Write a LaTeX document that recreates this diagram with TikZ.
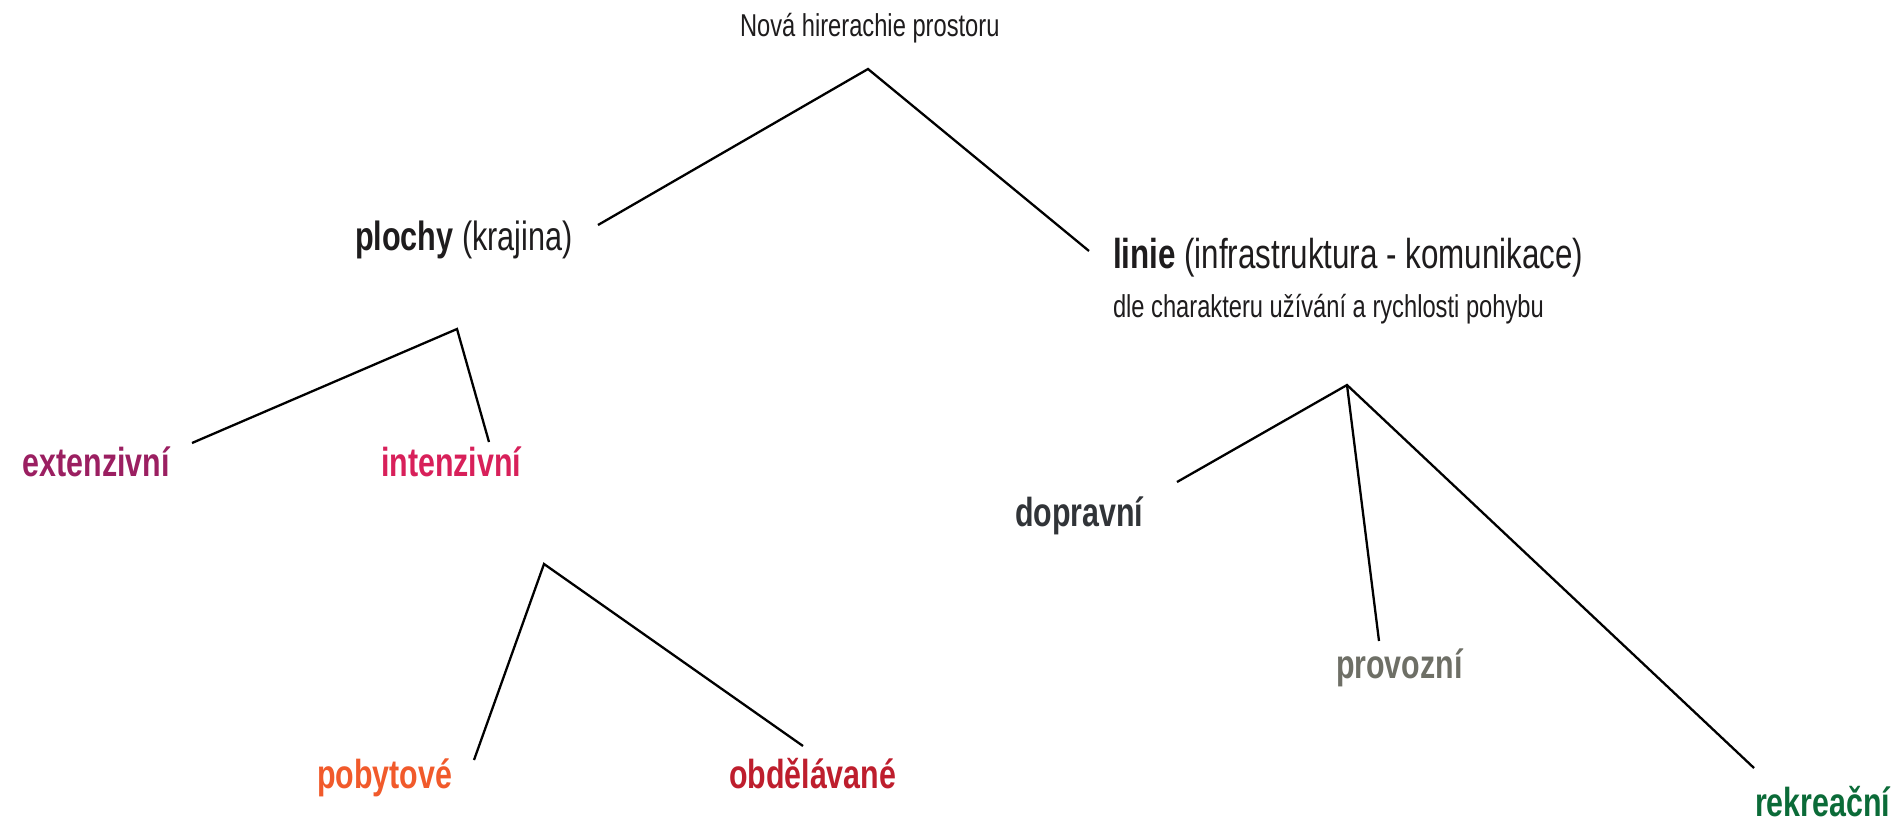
\documentclass[tikz,border=0pt]{standalone}
\usepackage{fontspec}
\setmainfont{Liberation Sans}[FakeStretch=0.75]
\definecolor{txt}{HTML}{1E1C1D}
\definecolor{cext}{HTML}{9B1F61}
\definecolor{cint}{HTML}{D8205A}
\definecolor{cpob}{HTML}{F15A2B}
\definecolor{cobd}{HTML}{BE1E2D}
\definecolor{cdop}{HTML}{313438}
\definecolor{cpro}{HTML}{6E6F66}
\definecolor{crek}{HTML}{0B6B38}
\begin{document}
\begin{tikzpicture}[x=1pt,y=-1pt,
  lbl/.style={anchor=base west,inner sep=0pt,outer sep=0pt,text=txt},
  small/.style={lbl,font=\fontsize{31.6}{36}\selectfont},
  big/.style={lbl,font=\fontsize{40.8}{46}\selectfont},
  cat/.style={lbl,font=\fontsize{40.5}{46}\selectfont\bfseries},
  branch/.style={draw=black,line width=2.3pt}]
\useasboundingbox[fill=white] (0,0) rectangle (1903,828);
% texts
\node[small] (title) at (740,36) {Nová hirerachie prostoru};
\node[big] (plochy) at (355,250) {\textbf{plochy} (krajina)};
\node[big,font=\fontsize{41.8}{46}\selectfont] (linie) at (1113,268) {\textbf{linie} (infrastruktura - komunikace)};
\node[small] (dle) at (1113,317) {dle charakteru užívání a rychlosti pohybu};
\node[cat,text=cext] (ext) at (23,476) {extenzivní};
\node[cat,text=cint] (int) at (381,476) {intenzivní};
\node[cat,text=cpob] (pob) at (317,788) {pobytové};
\node[cat,text=cobd] (obd) at (729,788) {obdělávané};
\node[cat,text=cdop] (dop) at (1015,526) {dopravní};
\node[cat,text=cpro] (pro) at (1336,678) {provozní};
\node[cat,text=crek] (rek) at (1755,816) {rekreační};
% branch points
\coordinate (a0) at (868,69);
\coordinate (a0l) at (598,225);
\coordinate (a0r) at (1089,251);
\coordinate (a1) at (457,329);
\coordinate (a1l) at (192,443);
\coordinate (a1r) at (489,442);
\coordinate (a2) at (544,564);
\coordinate (a2l) at (474,760);
\coordinate (a2r) at (803,746);
\coordinate (a3) at (1347,385);
\coordinate (a3l) at (1177,482);
\coordinate (a3m) at (1379,641);
\coordinate (a3r) at (1754,768);
% connectors
\draw[branch] (a0l) -- (a0) -- (a0r);
\draw[branch] (a1l) -- (a1) -- (a1r);
\draw[branch] (a2l) -- (a2) -- (a2r);
\draw[branch] (a3l) -- (a3) -- (a3r);
\draw[branch] (a3) -- (a3m);
\end{tikzpicture}
\end{document}
